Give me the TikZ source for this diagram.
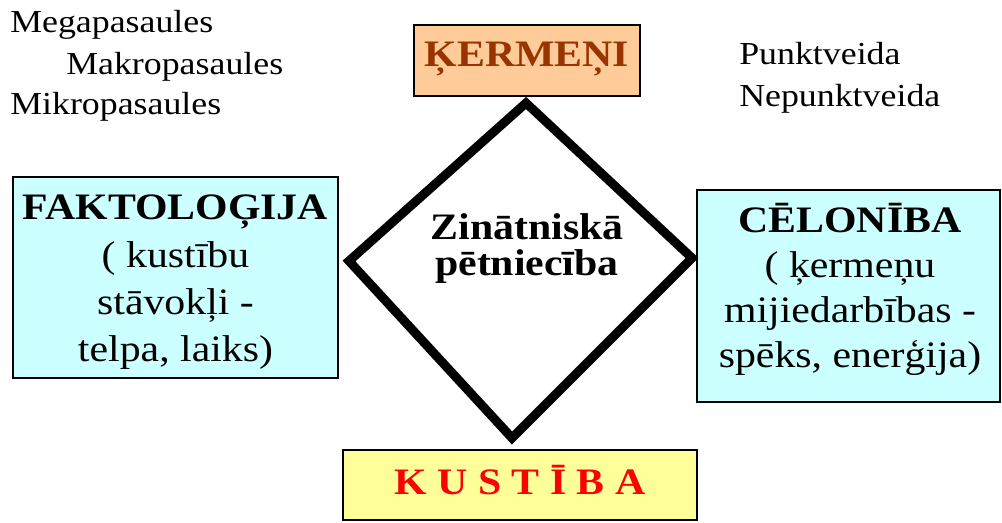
\documentclass[tikz,border=0pt]{standalone}
\usepackage{fontspec}
\setmainfont{Liberation Serif}[FakeStretch=1.12]
\definecolor{peach}{HTML}{FFCC99}
\definecolor{brownt}{HTML}{993300}
\definecolor{lcyan}{HTML}{CCFFFF}
\definecolor{lyellow}{HTML}{FFFF99}
\begin{document}
\begin{tikzpicture}[x=0.75pt,y=-0.75pt,
  box/.style={draw=black,line width=1.5pt,inner sep=0pt},
  wh/.style 2 args={minimum width=#1*0.75pt,minimum height=#2*0.75pt},
  lbl/.style={anchor=base west,inner sep=0pt,font=\fontsize{24}{29}\selectfont},
  txt/.style={anchor=base,inner sep=0pt,align=center},
  big/.style={font=\fontsize{28}{35.5}\selectfont},
  frame/.style={line width=6.75pt,line join=miter,miter limit=10}
]
\useasboundingbox (0,0) rectangle (1002,523);

% boxes
\node[box,fill=peach,wh={226}{71}] (ker) at (527,60.5) {};
\node[box,fill=lcyan,wh={325}{201}] (fak) at (175.5,277.5) {};
\node[box,fill=lcyan,wh={303}{212}] (cel) at (848.5,296) {};
\node[box,fill=lyellow,wh={354}{70}] (kus) at (520,485) {};

% box texts (base anchor = baseline of the last line)
\node[txt,big,text=brownt] (kert) at (527,67) {\bfseries ĶERMEŅI};
\node[txt,big] (fakt) at (175.5,362) {\textbf{FAKTOLOĢIJA}\\( kustību\\stāvokļi -\\telpa, laiks)};
\node[txt,font=\fontsize{28}{33.75}\selectfont] (celt) at (850,368) {\textbf{CĒLONĪBA}\\( ķermeņu\\mijiedarbības -\\spēks, enerģija)};
\node[txt,font=\fontsize{28}{35}\selectfont\bfseries,text=red] (kust) at (520,494) {K U S T Ī B A};

% diamond
\coordinate (dt) at (526,103);
\coordinate (dr) at (692,258);
\coordinate (db) at (512,438);
\coordinate (dl) at (349,261);
\draw[frame] (dt) -- (dr) -- (db) -- (dl) -- cycle;
\node[txt,font=\fontsize{28}{27}\selectfont\bfseries] (zin) at (527,276) {Zinātniskā\\pētniecība};

% side labels
\node[lbl] (mega) at (10,33) {Megapasaules};
\node[lbl] (makro) at (66,75) {Makropasaules};
\node[lbl] (mikro) at (10,115) {Mikropasaules};
\node[lbl] (punkt) at (739,65) {Punktveida};
\node[lbl] (nepunkt) at (739,107) {Nepunktveida};
\end{tikzpicture}
\end{document}
